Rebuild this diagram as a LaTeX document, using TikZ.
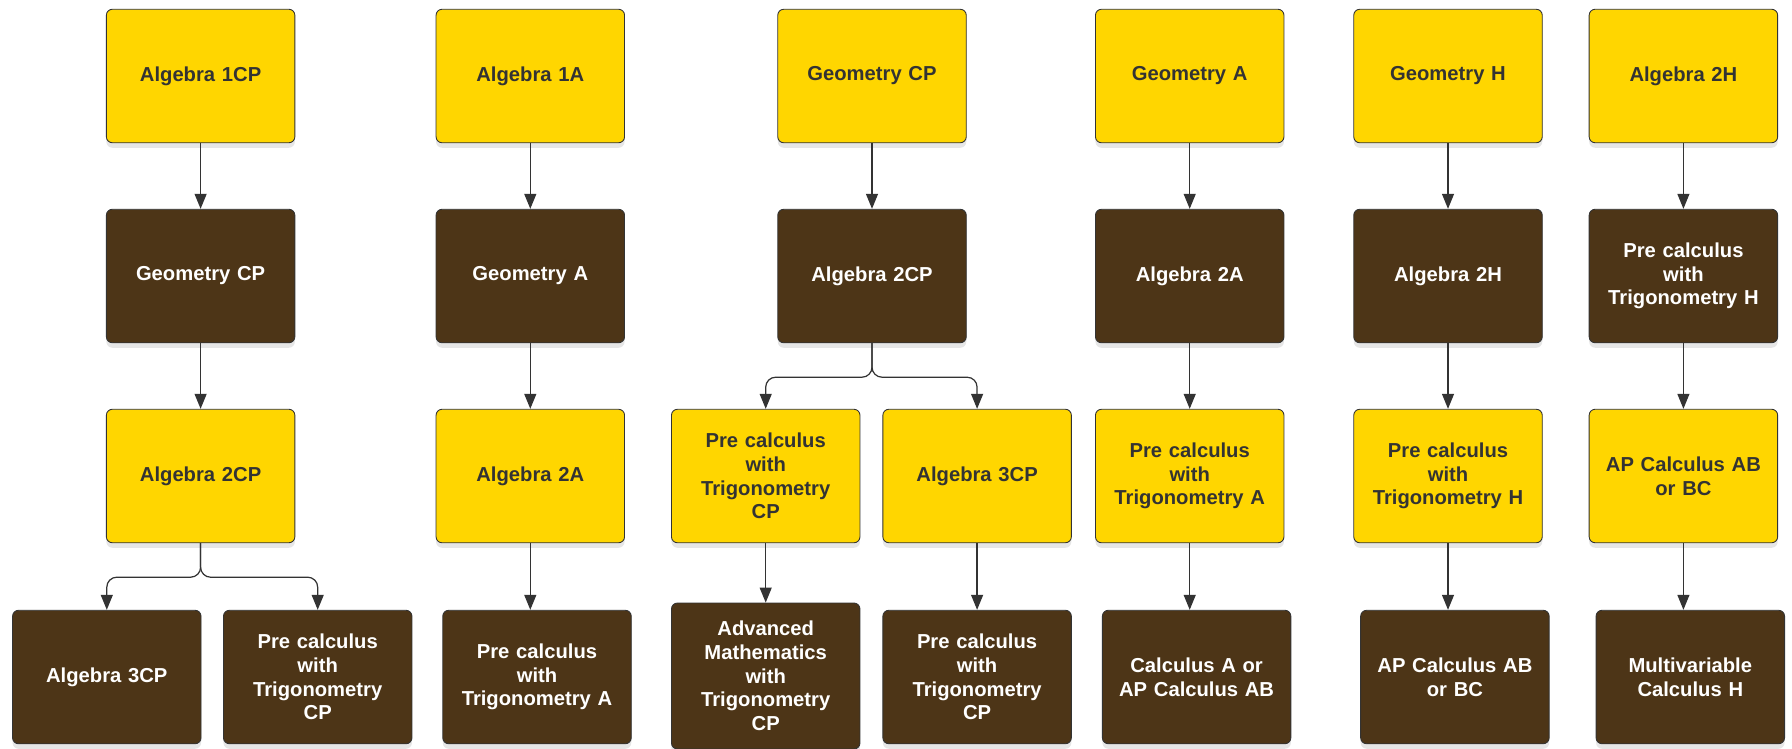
\documentclass[tikz,border=0pt]{standalone}
\usepackage{fontspec}
\setmainfont{Liberation Sans}
\usepackage{xcolor}
\usetikzlibrary{arrows.meta,positioning,shadows}
\definecolor{gold}{HTML}{FFD600}
\definecolor{bark}{HTML}{4D3517}
\definecolor{ink}{HTML}{333333}

\begin{document}
\begin{tikzpicture}[x=0.2mm,y=-0.2mm,
  box/.style={rectangle,rounded corners=1.2mm,draw=ink,line width=0.5pt,minimum width=37.7mm,minimum height=26.7mm,text width=35mm,align=center,font=\bfseries\fontsize{11.5}{13.5}\selectfont,drop shadow={shadow xshift=0mm,shadow yshift=-1mm,opacity=0.2}},
  yel/.style={box,fill=gold,text=ink},
  brn/.style={box,fill=bark,text=white},
  arr/.style={-{Triangle[length=3mm,width=2.4mm]},draw=ink,line width=0.7pt}]
  \useasboundingbox (0,0) rectangle (1792,748);

  % first column
  \node[yel] (a1) at (200.6,76) {Algebra 1CP};
  \node[brn] (a2) at (200.6,276) {Geometry CP};
  \node[yel] (a3) at (200.6,476) {Algebra 2CP};
  \node[brn] (a4) at (106.8,677) {Algebra 3CP};
  \node[brn] (a5) at (317.7,677) {Pre calculus\\with\\Trigonometry\\CP};

  % second column
  \node[yel] (b1) at (530.3,76) {Algebra 1A};
  \node[brn] (b2) at (530.3,276) {Geometry A};
  \node[yel] (b3) at (530.3,476) {Algebra 2A};
  \node[brn] (b4) at (537,677) {Pre calculus\\with\\Trigonometry A};

  % third column
  \node[yel] (c1) at (872,76) {Geometry CP};
  \node[brn] (c2) at (872,276) {Algebra 2CP};
  \node[yel] (c3) at (765.7,476) {Pre calculus\\with\\Trigonometry\\CP};
  \node[yel] (c4) at (977.1,476) {Algebra 3CP};
  \node[brn,minimum height=29.2mm] (c5) at (765.7,676) {Advanced\\Mathematics\\with\\Trigonometry\\CP};
  \node[brn] (c6) at (977.1,677) {Pre calculus\\with\\Trigonometry\\CP};

  % fourth column
  \node[yel] (d1) at (1189.7,76) {Geometry A};
  \node[brn] (d2) at (1189.7,276) {Algebra 2A};
  \node[yel] (d3) at (1189.7,476) {Pre calculus\\with\\Trigonometry A};
  \node[brn] (d4) at (1196.6,677) {Calculus A or\\AP Calculus AB};

  % fifth column
  \node[yel] (e1) at (1448,76) {Geometry H};
  \node[brn] (e2) at (1448,276) {Algebra 2H};
  \node[yel] (e3) at (1448,476) {Pre calculus\\with\\Trigonometry H};
  \node[brn] (e4) at (1454.9,677) {AP Calculus AB\\or BC};

  % sixth column
  \node[yel] (f1) at (1683.4,76) {Algebra 2H};
  \node[brn] (f2) at (1683.4,276) {Pre calculus\\with\\Trigonometry H};
  \node[yel] (f3) at (1683.4,476) {AP Calculus AB\\or BC};
  \node[brn] (f4) at (1690.3,677) {Multivariable\\Calculus H};

  % arrows
  \draw[arr] (a1) -- (a2);
  \draw[arr] (a2) -- (a3);
  \draw[arr,rounded corners=2mm] (a3.south) -- ++(0,34) -| (a4.north);
  \draw[arr,rounded corners=2mm] (a3.south) -- ++(0,34) -| (a5.north);

  \draw[arr] (b1) -- (b2);
  \draw[arr] (b2) -- (b3);
  \draw[arr] (b3.south) -- (b3.south |- b4.north);

  \draw[arr] (c1) -- (c2);
  \draw[arr,rounded corners=2mm] (c2.south) -- ++(0,34) -| (c3.north);
  \draw[arr,rounded corners=2mm] (c2.south) -- ++(0,34) -| (c4.north);
  \draw[arr] (c3) -- (c5);
  \draw[arr] (c4) -- (c6);

  \draw[arr] (d1) -- (d2);
  \draw[arr] (d2) -- (d3);
  \draw[arr] (d3.south) -- (d3.south |- d4.north);

  \draw[arr] (e1) -- (e2);
  \draw[arr] (e2) -- (e3);
  \draw[arr] (e3.south) -- (e3.south |- e4.north);

  \draw[arr] (f1) -- (f2);
  \draw[arr] (f2) -- (f3);
  \draw[arr] (f3.south) -- (f3.south |- f4.north);
\end{tikzpicture}
\end{document}
